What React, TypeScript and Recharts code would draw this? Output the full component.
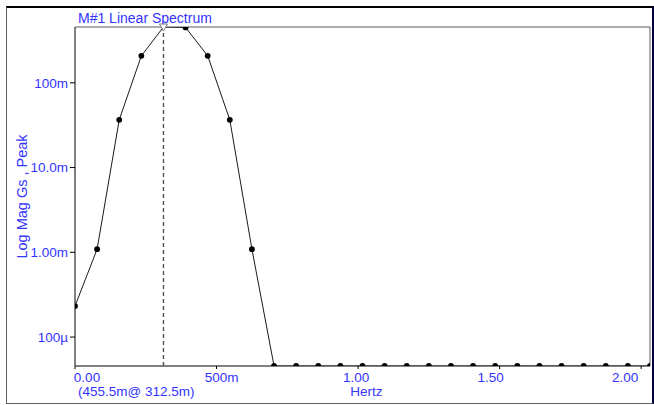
import React from 'react';
import { LineChart, Line, XAxis, YAxis, ReferenceLine, ReferenceArea, ReferenceDot, Label } from 'recharts';

const freqs = [0, 0.078125, 0.15625, 0.234375, 0.3125, 0.390625, 0.46875, 0.546875, 0.625, 0.703125, 0.78125, 0.859375, 0.9375, 1.015625, 1.09375, 1.171875, 1.25, 1.328125, 1.40625, 1.484375, 1.5625, 1.640625, 1.71875, 1.796875, 1.875, 1.953125, 2.03125];
const mags = [2.32e-4, 1.09e-3, 0.0366, 0.208, 0.4555, 0.45, 0.208, 0.0366, 1.09e-3, 4.56e-5, 4.56e-5, 4.56e-5, 4.56e-5, 4.56e-5, 4.56e-5, 4.56e-5, 4.56e-5, 4.56e-5, 4.56e-5, 4.56e-5, 4.56e-5, 4.56e-5, 4.56e-5, 4.56e-5, 4.56e-5, 4.56e-5, 4.56e-5];
const xTicks = [0, 0.5, 1, 1.5, 2];
const xTickLabels = ['0.00', '500m', '1.00', '1.50', '2.00'];
const yTicks = [1e-4, 1e-3, 1e-2, 1e-1];
const yTickLabels = ['100\u00b5', '1.00m', '10.0m', '100m'];
const xDomain = [0, 2.03125];
const yDomain = [4.555e-5, 0.4555];
const markerFreq = 0.3125;
const markerMag = 0.4555;
const peakIndex = 4;
const title = 'M#1 Linear Spectrum';
const yTitle = 'Log Mag Gs , Peak';
const xTitle = 'Hertz';
const readout = '(455.5m@ 312.5m)';

const data = freqs.map((f, i) => ({ f, v: mags[i] }));

const BLUE = '#3434ff';
const FONT = '"Liberation Sans", Arial, sans-serif';
const FS = 13.5;
const AXIS = '#555555';

const XTick = (props: any) => {
  const { x, y, payload } = props;
  const i = xTicks.indexOf(payload.value);
  return (
    <text x={x} y={y} dx={12 - 14 * payload.value} dy={11} textAnchor="middle" fill={BLUE} fontSize={FS} fontFamily={FONT}>
      {xTickLabels[i]}
    </text>
  );
};

const Dot = (props: any) => {
  const { cx, cy, index } = props;
  if (cx == null || cy == null) return null;
  if (index === peakIndex) return null;
  return <circle key={'d' + index} cx={cx} cy={cy} r={2.9} fill="#000000" stroke="none" />;
};

const PeakMarker = (props: any) => {
  const { cx, cy } = props;
  return (
    <polygon
      points={`${cx - 4},${cy - 3} ${cx + 4},${cy - 3} ${cx},${cy + 4}`}
      fill="#ffffff"
      stroke="#777777"
      strokeWidth={1}
    />
  );
};

export default function App() {
  return (
    <div style={{ position: 'absolute', left: 0, top: 0, width: 654, height: 405, background: '#ffffff' }}>
      <div
        style={{
          position: 'absolute',
          left: 6,
          top: 6,
          width: 645,
          height: 395,
          borderLeft: '1px solid #606060',
          borderTop: '2px solid #000000',
          borderRight: '2px solid #000040',
          borderBottom: '1px solid #606060',
        }}
      />
      <div style={{ position: 'absolute', left: 0, top: 0 }}>
        <LineChart width={654} height={405} data={data} margin={{ top: 27, right: 4, bottom: 9, left: 15 }}>
          <XAxis
            dataKey="f"
            type="number"
            domain={xDomain}
            ticks={xTicks}
            tick={<XTick />}
            tickSize={3}
            tickMargin={2}
            height={30}
            stroke={AXIS}
            axisLine={{ stroke: AXIS }}
            tickLine={{ stroke: '#000000' }}
            allowDataOverflow
          >
            <Label
              content={(p: any) => {
                const vb = p.viewBox;
                return (
                  <g>
                    <text x={vb.x + vb.width / 2 + 4} y={vb.y + 30} textAnchor="middle" fill={BLUE} fontSize={FS} fontFamily={FONT}>
                      {xTitle}
                    </text>
                    <text x={vb.x + 3} y={vb.y + 30} textAnchor="start" fill={BLUE} fontSize={FS} fontFamily={FONT}>
                      {readout}
                    </text>
                  </g>
                );
              }}
            />
          </XAxis>
          <YAxis
            scale="log"
            domain={yDomain}
            ticks={yTicks}
            allowDataOverflow
            width={60}
            tickSize={5}
            tickMargin={2}
            tickFormatter={(v: number) => yTickLabels[yTicks.indexOf(v)]}
            tick={{ fill: BLUE, fontSize: FS, fontFamily: FONT }}
            axisLine={{ stroke: AXIS }}
            tickLine={{ stroke: '#000000' }}
          >
            <Label
              content={(p: any) => {
                const vb = p.viewBox;
                const cx = vb.x + 7;
                const cy = vb.y + vb.height / 2;
                return (
                  <text x={cx} y={cy} transform={`rotate(-90 ${cx} ${cy})`} textAnchor="middle" dominantBaseline="central" fill={BLUE} fontSize={14.5} fontFamily={FONT}>
                    {yTitle}
                  </text>
                );
              }}
            />
          </YAxis>
          <ReferenceArea
            x1={xDomain[0]}
            x2={xDomain[1]}
            y1={yDomain[0]}
            y2={yDomain[1]}
            fill="none"
            fillOpacity={0}
            stroke="#5a5a5a"
            strokeWidth={1}
            ifOverflow="visible"
          >
            <Label
              content={(p: any) => {
                const vb = p.viewBox;
                return (
                  <text x={vb.x + 3} y={vb.y - 4} textAnchor="start" fill={BLUE} fontSize={14} fontFamily={FONT}>
                    {title}
                  </text>
                );
              }}
            />
          </ReferenceArea>
          <ReferenceLine x={markerFreq} stroke="#505050" strokeDasharray="4 3" strokeWidth={1.4} />
          <Line
            type="linear"
            dataKey="v"
            stroke="#1a1a1a"
            strokeWidth={1}
            dot={<Dot />}
            activeDot={false}
            isAnimationActive={false}
          />
          <ReferenceDot x={markerFreq} y={markerMag} ifOverflow="visible" shape={<PeakMarker />} />
        </LineChart>
      </div>
    </div>
  );
}
